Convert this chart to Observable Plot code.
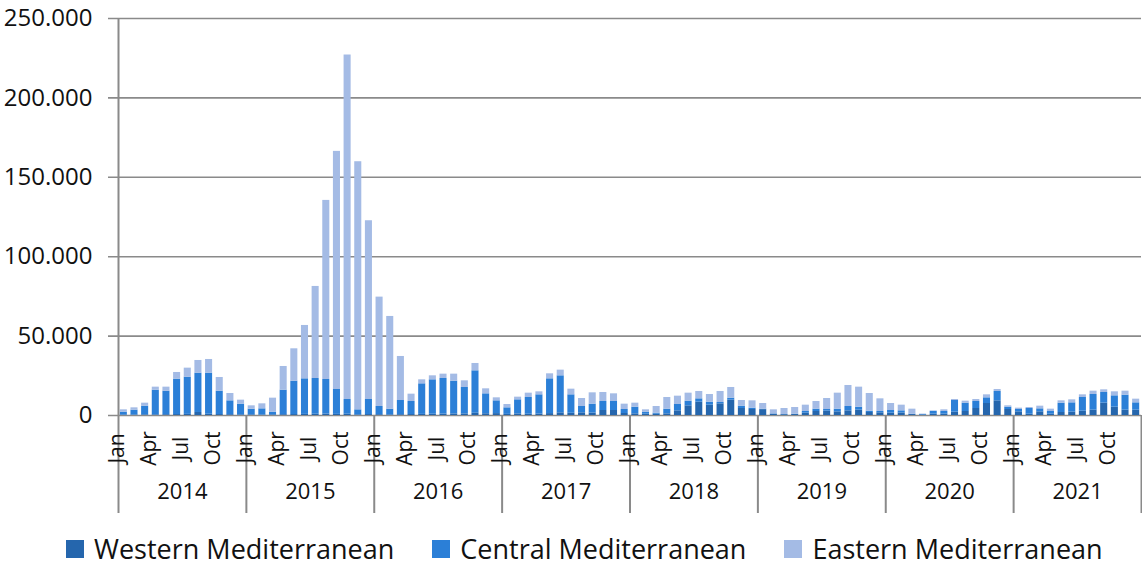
<!DOCTYPE html>
<html>
<head>
<meta charset="utf-8">
<script src="https://cdn.jsdelivr.net/npm/d3@7"></script>
<script src="https://cdn.jsdelivr.net/npm/@observablehq/plot@0.6"></script>
<style>
  html, body { margin: 0; padding: 0; background: #fff; }
  #chart { width: 1142px; height: 567px; position: relative; font-family: "Open Sans", sans-serif; }
  #legend { position: absolute; left: 66px; top: 530px; display: flex; align-items: center; font-size: 27px; line-height: normal; color: #111; white-space: nowrap; }
  .item { display: flex; align-items: center; margin-right: 38px; }
  .sw { width: 18px; height: 18px; margin-right: 10px; flex: none; }
</style>
</head>
<body>
<div id="chart"></div>
<script>
const years = ["2014", "2015", "2016", "2017", "2018", "2019", "2020", "2021"];
const monthNames = ["Jan", "Feb", "Mar", "Apr", "May", "Jun", "Jul", "Aug", "Sep", "Oct", "Nov", "Dec"];
const tickMonths = ["Jan", "Apr", "Jul", "Oct"];
const seriesNames = ["Western Mediterranean", "Central Mediterranean", "Eastern Mediterranean"];
const seriesColors = ["#2566ad", "#2b7fd7", "#a4bbe5"];
const yTicks = [0, 50000, 100000, 150000, 200000, 250000];

// monthly values, Jan 2014 .. Dec 2021
const western = [
  300, 300, 400, 400, 500, 600, 700, 1900, 800, 600, 500, 400,
  400, 300, 400, 500, 600, 700, 800, 900, 700, 800, 400, 600,
  500, 400, 500, 600, 700, 800, 900, 1000, 1000, 1400, 1100, 1200,
  700, 1000, 800, 900, 1200, 1680, 1400, 1680, 1500, 3150, 3150, 1260,
  1050, 800, 800, 1050, 2940, 6090, 8400, 6510, 7350, 9660, 4410, 3780,
  3700, 800, 500, 600, 1470, 2520, 2730, 2310, 2940, 3360, 1890, 1700,
  1470, 1600, 600, 300, 840, 840, 2100, 2520, 4410, 7560, 9240, 3780,
  2310, 800, 2310, 800, 1890, 2100, 2730, 3360, 7770, 5250, 3360, 3360
];
const central = [
  1800, 3060, 5480, 15560, 14830, 22290, 23450, 24770, 25870, 14730, 8740, 6740,
  3590, 3900, 1700, 15460, 21030, 22400, 22510, 21780, 15680, 9280, 3170, 9480,
  5170, 3590, 8950, 8220, 19250, 21670, 22410, 20630, 16640, 26740, 12550, 8040,
  4130, 8870, 10540, 12120, 21900, 23310, 11620, 3990, 5640, 5670, 5670, 2520,
  4200, 1300, 670, 2940, 3990, 2940, 2100, 1890, 840, 1260, 1470, 840,
  290, 250, 130, 240, 1050, 1470, 1050, 1680, 2730, 1890, 840, 820,
  1680, 1340, 240, 400, 1800, 1680, 7350, 5250, 4410, 3570, 5880, 1470,
  1470, 3610, 1890, 1720, 5880, 5880, 8610, 9870, 6720, 7140, 9450, 4620
];
const eastern = [
  1470, 1470, 1890, 1890, 2520, 4200, 5670, 7980, 8610, 8610, 4620, 2520,
  2100, 3150, 8820, 14910, 20370, 33600, 57960, 112770, 149940, 216930, 156240, 112560,
  68880, 58380, 27720, 4620, 2520, 2520, 2730, 4410, 4200, 4620, 3150, 1890,
  2100, 1680, 2730, 1890, 3150, 3570, 3570, 5040, 7140, 5670, 4830, 3360,
  2520, 1470, 4200, 7350, 5250, 5040, 4620, 4830, 6930, 6720, 3570, 4620,
  3570, 2520, 3780, 4200, 3990, 4830, 6930, 10080, 13230, 12600, 11130, 7980,
  4410, 3570, 3150, 140, 200, 1050, 630, 1260, 1260, 1890, 1260, 840,
  840, 630, 1680, 1470, 1470, 1890, 1680, 2100, 1680, 2520, 2520, 2310
];

const seriesValues = [western, central, eastern];
const rows = [];
for (let i = 0; i < western.length; i++) {
  seriesValues.forEach((arr, s) => rows.push({x1: i, x2: i + 1, series: seriesNames[s], value: arr[i]}));
}
const nMonths = western.length;
const monthTickIdx = d3.range(nMonths).filter(i => tickMonths.includes(monthNames[i % 12]));
const yearBounds = d3.range(years.length + 1).map(k => k * 12);
const fmt = d => d3.format(",")(d).replace(/,/g, ".");
const gray = "#8a8a8a";

const chart = Plot.plot({
  width: 1142,
  height: 530,
  marginLeft: 118,
  marginRight: 1,
  marginTop: 18,
  marginBottom: 115,
  style: {fontFamily: "Open Sans, sans-serif", fontSize: "20px", color: "#111", background: "#fff"},
  x: {type: "linear", domain: [0, nMonths], axis: null},
  y: {domain: [0, 250000], axis: null},
  color: {domain: seriesNames, range: seriesColors},
  marks: [
    Plot.ruleY(yTicks, {stroke: gray, strokeWidth: 1.6, insetLeft: -10}),
    Plot.rectY(rows, {x1: "x1", x2: "x2", y: "value", fill: "series", insetLeft: 1.8, insetRight: 1.8}),
    Plot.ruleX([0], {stroke: gray, strokeWidth: 2}),
    Plot.ruleX(yearBounds, {stroke: gray, strokeWidth: 2, insetTop: 397, insetBottom: -98}),
    Plot.axisY(yTicks, {tickSize: 0, tickPadding: 26, tickFormat: fmt, fontSize: 24, label: null}),
    Plot.text(monthTickIdx, {x: d => d + 0.5, frameAnchor: "bottom", dy: 33, rotate: -90, text: d => monthNames[d % 12], fontSize: 21}),
    Plot.text(years, {x: (d, k) => k * 12 + 6, frameAnchor: "bottom", dy: 83, text: d => d, fontSize: 22})
  ]
});
document.getElementById("chart").appendChild(chart);

const legend = document.createElement("div");
legend.id = "legend";
seriesNames.forEach((name, s) => {
  const item = document.createElement("div");
  item.className = "item";
  const sw = document.createElement("span");
  sw.className = "sw";
  sw.style.background = seriesColors[s];
  const label = document.createElement("span");
  label.textContent = name;
  item.appendChild(sw);
  item.appendChild(label);
  legend.appendChild(item);
});
document.getElementById("chart").appendChild(legend);
</script>
</body>
</html>
